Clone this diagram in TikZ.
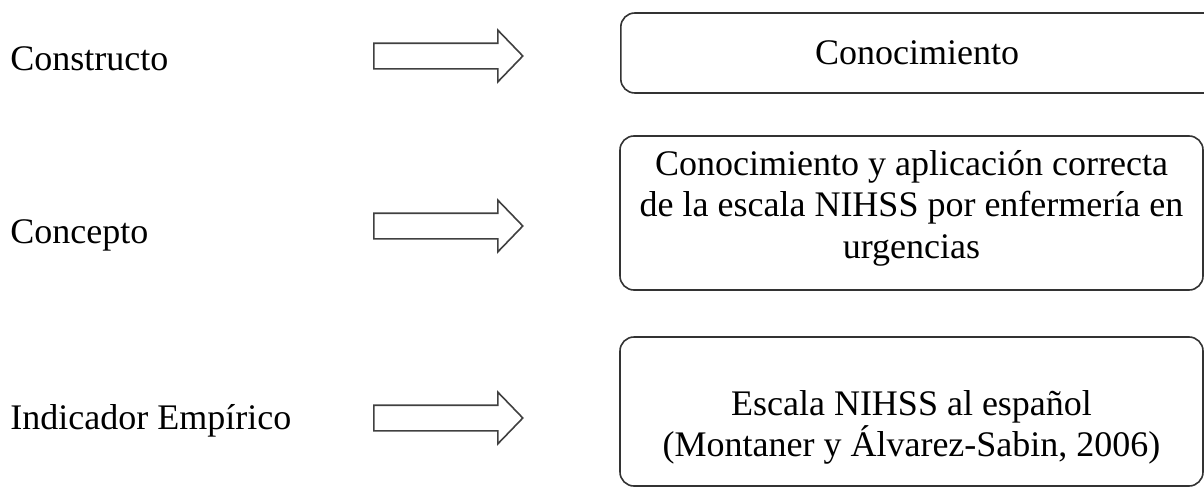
\documentclass[tikz,border=0pt]{standalone}
\usepackage{fontspec}
\setmainfont{Liberation Serif}
\usetikzlibrary{shapes.arrows}
\tikzset{
	caja/.style={draw=black!80, line width=0.8pt, rounded corners=7pt, minimum width=291.5pt, inner sep=0pt},
	texto/.style={align=center, inner sep=0pt},
	flecha/.style={shape=single arrow, draw=black!75, line width=0.8pt, minimum height=74.5pt, inner xsep=0pt, inner ysep=6pt, single arrow head extend=6.5pt, single arrow head indent=0pt, single arrow tip angle=92, anchor=tail},
	etiqueta/.style={anchor=base west, inner sep=0pt}
}

\begin{document}
\begin{tikzpicture}[x=0.5pt, y=-0.5pt, font=\fontsize{18}{20.7}\selectfont]
	\useasboundingbox (0,0) rectangle (1204,487);
	\clip (0,0) rectangle (1204,487);
	\node[etiqueta] (constructo) at (10,70) {Constructo};
	\node[etiqueta] (concepto) at (10,243) {Concepto};
	\node[etiqueta] (indicador) at (10,429) {Indicador Empírico};
	\foreach \y/\n in {56/1,226/2,418/3}{
		\node[flecha] (flecha\n) at (373,\y) {};
	}
	\node[caja, anchor=west, minimum width=340pt, minimum height=40pt] (caja1) at (620,53) {};
	\node[caja, minimum height=77pt] (caja2) at (911.5,213) {};
	\node[caja, minimum height=74.5pt] (caja3) at (911.5,411.5) {};
	\node[texto] (texto1) at (917,53) {Conocimiento};
	\node[texto] (texto2) at ([yshift=2.5pt]caja2.center) {Conocimiento y aplicación correcta\\de la escala NIHSS por enfermería en\\urgencias};
	\node[texto] (texto3) at ([yshift=-8pt]caja3.center) {Escala NIHSS al español\\(Montaner y Álvarez-Sabin, 2006)};
\end{tikzpicture}
\end{document}
